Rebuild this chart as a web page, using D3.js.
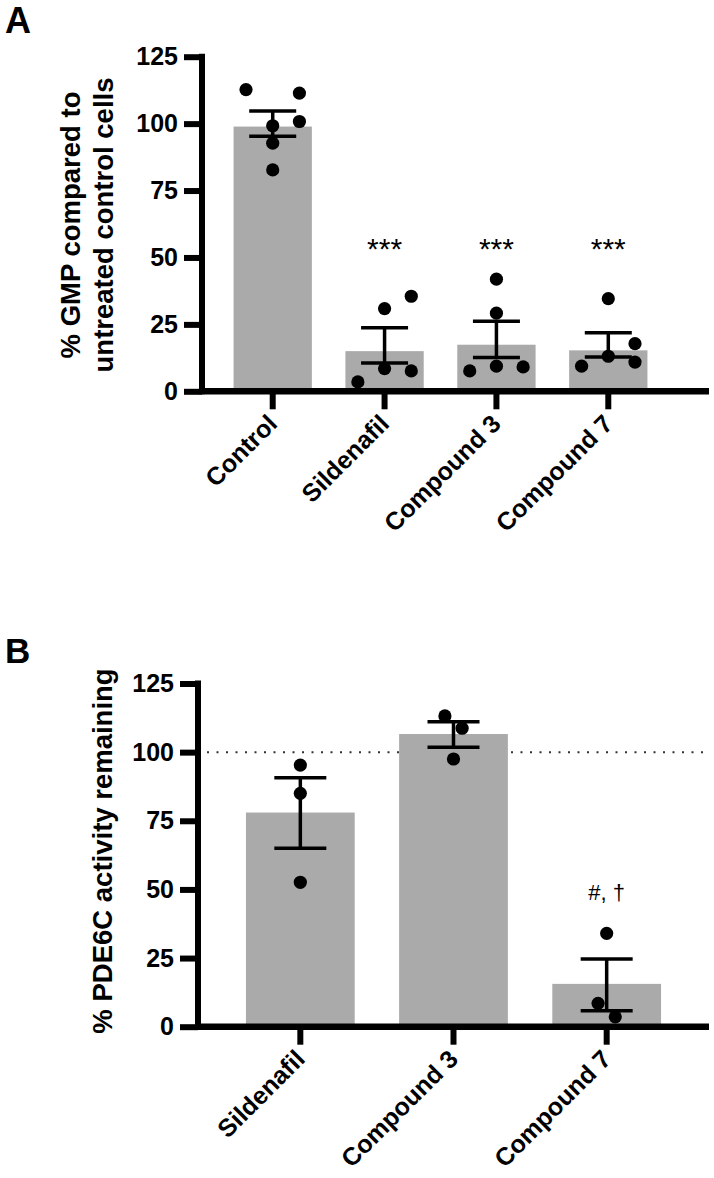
<!DOCTYPE html>
<html>
<head>
<meta charset="utf-8">
<script src="https://cdn.jsdelivr.net/npm/d3@7"></script>
<style>
  html, body { margin: 0; padding: 0; background: #fff; }
  svg { display: block; font-family: "Liberation Sans", Arial, sans-serif; }
</style>
</head>
<body>
<svg id="chart" width="714" height="1178"></svg>
<script>
// ---------- Panel A data ----------
const categoriesA = ["Control", "Sildenafil", "Compound 3", "Compound 7"];
const barA = [98.9, 15.0, 17.4, 15.3];
const errUpperA = [104.7, 23.7, 26.2, 21.9];
const errLowerA = [95.3, 10.6, 12.6, 12.8];
const pointsA = [
  [112.7, 111.4, 100.8, 99.2, 92.7, 82.7],
  [3.5, 8.5, 7.6, 30.9, 35.5],
  [7.6, 9.4, 9.1, 29.2, 41.9],
  [9.4, 13.1, 10.9, 17.8, 34.6]
];
const scatterColA = [
  [-1, 1, 1, 0, 0, 0],
  [-1, 0, 1, 0, 1],
  [-1, 0, 1, 0, 0],
  [-1, 0, 1, 1, 0]
];
const sigLabelsA = ["", "***", "***", "***"];
const sigValueA = 53.5;
const yTicksA = [0, 25, 50, 75, 100, 125];
const yTitleA = ["% GMP compared to", "untreated control cells"];

// ---------- Panel B data ----------
const categoriesB = ["Sildenafil", "Compound 3", "Compound 7"];
const barB = [78.0, 106.6, 15.6];
const errUpperB = [90.7, 111.1, 24.7];
const errLowerB = [65.0, 101.8, 5.8];
const pointsB = [
  [95.3, 85.0, 52.6],
  [113.2, 108.7, 97.5],
  [34.0, 8.5, 3.6]
];
const scatterColB = [
  [0, 0, 0],
  [-1, 1, 0],
  [0, -1, 1]
];
const sigLabelsB = ["", "", "#, \u2020"];
const sigValueB = 48.7;
const refLineB = 100;
const yTicksB = [0, 25, 50, 75, 100, 125];
const yTitleB = ["% PDE6C activity remaining"];

// ---------- drawing ----------
const svg = d3.select("#chart");
const BAR = "#aaaaaa";

function panel(cfg) {
  const g = svg.append("g");
  const y = d3.scaleLinear().domain([0, 125]).range([cfg.y0, cfg.y1]);
  const x = d3.scaleBand().domain(cfg.cats).range([cfg.xLeft, cfg.xRight])
    .paddingInner(cfg.padIn).paddingOuter(0.3);

  // reference line
  if (cfg.refLine != null) {
    g.append("line")
      .attr("x1", cfg.axisX + 9).attr("x2", cfg.axisEnd)
      .attr("y1", y(cfg.refLine)).attr("y2", y(cfg.refLine))
      .attr("stroke", "#333").attr("stroke-width", 2)
      .attr("stroke-dasharray", "2,7.5");
  }

  // bars
  g.selectAll("rect.bar").data(cfg.bars).join("rect")
    .attr("x", (d, i) => x(cfg.cats[i]))
    .attr("width", x.bandwidth())
    .attr("y", d => y(d))
    .attr("height", d => y(0) - y(d))
    .attr("fill", BAR);

  // error bars
  cfg.cats.forEach((c, i) => {
    const cx = x(c) + x.bandwidth() / 2;
    const hi = y(cfg.up[i]), lo = y(cfg.lo[i]);
    g.append("line").attr("x1", cx).attr("x2", cx).attr("y1", hi).attr("y2", lo)
      .attr("stroke", "#000").attr("stroke-width", 3.5);
    [hi, lo].forEach(yy => {
      g.append("line").attr("x1", cx - cfg.capW / 2).attr("x2", cx + cfg.capW / 2)
        .attr("y1", yy).attr("y2", yy)
        .attr("stroke", "#000").attr("stroke-width", 3.5);
    });
  });

  // points
  cfg.cats.forEach((c, i) => {
    const cx = x(c) + x.bandwidth() / 2;
    g.selectAll(null).data(cfg.points[i]).join("circle")
      .attr("cx", (d, j) => cx + cfg.cols[i][j] * cfg.colStep)
      .attr("cy", d => y(d))
      .attr("r", 6.6)
      .attr("fill", "#000");
  });

  // significance labels
  g.selectAll("text.sig").data(cfg.sig).join("text")
    .attr("x", (d, i) => x(cfg.cats[i]) + x.bandwidth() / 2)
    .attr("y", y(cfg.sigValue))
    .attr("text-anchor", "middle")
    .attr("dominant-baseline", "central")
    .attr("font-size", cfg.sigSize)
    .attr("fill", "#000")
    .text(d => d);

  // y axis
  const yAxis = g.append("g").attr("transform", `translate(${cfg.axisX},0)`)
    .call(d3.axisLeft(y).tickValues(cfg.ticks).tickSize(18).tickSizeOuter(0).tickPadding(6));
  yAxis.select(".domain").attr("stroke-width", 6).attr("stroke-linecap", "square")
    .attr("d", `M0,${y(125)}V${y(0)}`);
  yAxis.selectAll(".tick line").attr("stroke-width", 6);
  yAxis.selectAll(".tick text").attr("font-size", 25).attr("font-weight", "bold")
    .attr("font-family", "Liberation Sans, Arial, sans-serif").attr("fill", "#000");

  // x axis
  const xAxis = g.append("g").attr("transform", `translate(0,${y(0)})`)
    .call(d3.axisBottom(x).tickSize(18).tickSizeOuter(0).tickFormat(""));
  xAxis.select(".domain").attr("stroke-width", 6.5)
    .attr("d", `M${cfg.axisX},0H${cfg.axisEnd}`);
  xAxis.selectAll(".tick line").attr("stroke-width", 6);

  // category labels
  g.selectAll("text.cat").data(cfg.cats).join("text")
    .attr("transform", d => `translate(${x(d) + x.bandwidth() / 2 + cfg.labDx},${y(0) + cfg.labDy}) rotate(-45)`)
    .attr("text-anchor", "end")
    .attr("font-size", 25).attr("font-weight", "bold").attr("fill", "#000")
    .text(d => d);

  // y title
  cfg.title.forEach((t, k) => {
    g.append("text")
      .attr("transform", `translate(${cfg.titleX[k]},${cfg.titleY}) rotate(-90)`)
      .attr("text-anchor", "middle")
      .attr("font-size", 27.5).attr("font-weight", "bold").attr("fill", "#000")
      .text(t);
  });

  // panel letter
  svg.append("text")
    .attr("x", cfg.letterX).attr("y", cfg.letterY)
    .attr("font-size", cfg.letterSize).attr("font-weight", "bold").attr("fill", "#000")
    .text(cfg.letter);
}

panel({
  cats: categoriesA, bars: barA, up: errUpperA, lo: errLowerA,
  points: pointsA, cols: scatterColA, colStep: 26.7,
  sig: sigLabelsA, sigValue: sigValueA, sigSize: 30,
  ticks: yTicksA, title: yTitleA, titleX: [80, 113], titleY: 225,
  y0: 391.3, y1: 56.7, xLeft: 200, xRight: 681, padIn: 0.3,
  axisX: 202, axisEnd: 709, capW: 47,
  labDx: 6, labDy: 34, refLine: null,
  letter: "A", letterX: 5, letterY: 33, letterSize: 36
});

panel({
  cats: categoriesB, bars: barB, up: errUpperB, lo: errLowerB,
  points: pointsB, cols: scatterColB, colStep: 8.6,
  sig: sigLabelsB, sigValue: sigValueB, sigSize: 22,
  ticks: yTicksB, title: yTitleB, titleX: [112], titleY: 851,
  y0: 1026.7, y1: 683.5, xLeft: 200, xRight: 707, padIn: 0.29,
  axisX: 198, axisEnd: 709, capW: 52,
  labDx: 6, labDy: 34, refLine: refLineB,
  letter: "B", letterX: 5, letterY: 663, letterSize: 35
});
</script>
</body>
</html>
